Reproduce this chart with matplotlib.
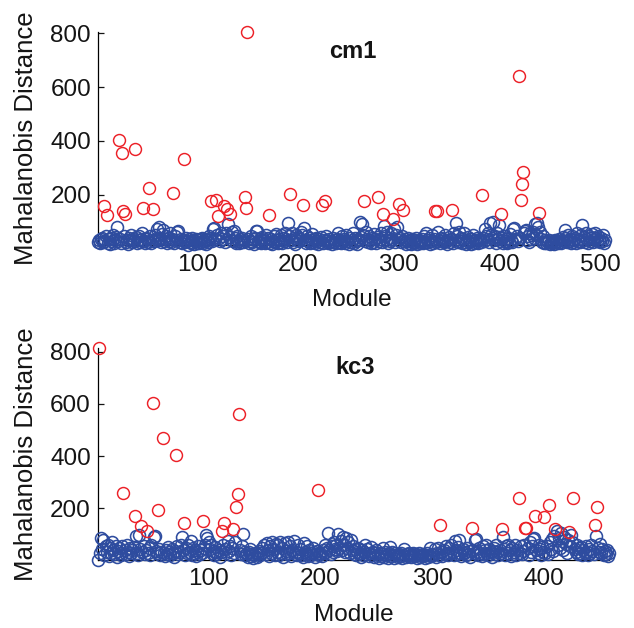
# Mahalanobis distance per module for the cm1 and kc3 data sets (outliers in red)
import numpy as np
import matplotlib.pyplot as plt

plt.rcParams["font.family"] = "Liberation Sans"

# cm1: distance per module (modules 1..505), 20 modules per row
cm1_distance = [
    25, 30, 18, 35, 40, 22, 156, 28, 45, 123, 20, 33, 15, 38, 27, 48, 21, 30, 42, 80,
    26, 402, 35, 19, 353, 138, 44, 129, 24, 31, 17, 38, 29, 50, 22, 34, 27, 369, 41, 19,
    30, 46, 24, 36, 55, 148, 28, 20, 39, 33, 25, 226, 44, 18, 31, 145, 27, 50, 36, 70,
    29, 80, 40, 22, 53, 68, 26, 34, 45, 19, 38, 28, 56, 24, 33, 206, 21, 47, 30, 62,
    64, 25, 36, 18, 30, 332, 22, 40, 27, 11, 34, 24, 20, 38, 29, 17, 26, 35, 21, 30,
    18, 33, 25, 40, 20, 28, 36, 16, 30, 24, 45, 38, 176, 27, 70, 74, 33, 181, 50, 120,
    40, 28, 55, 35, 46, 159, 24, 58, 146, 91, 42, 128, 30, 61, 26, 66, 38, 20, 44, 28,
    18, 34, 25, 40, 22, 30, 189, 150, 806, 36, 19, 28, 45, 24, 33, 17, 38, 63, 65, 27,
    22, 35, 18, 42, 26, 30, 20, 48, 25, 37, 124, 21, 33, 16, 28, 44, 23, 52, 31, 19,
    36, 25, 48, 20, 40, 28, 55, 33, 22, 94, 45, 201, 30, 58, 24, 38, 17, 50, 29, 42,
    26, 35, 60, 48, 161, 76, 32, 20, 44, 27, 38, 18, 30, 52, 24, 35, 21, 40, 28, 15,
    33, 24, 42, 162, 20, 30, 176, 46, 26, 18, 35, 22, 28, 16, 40, 25, 31, 20, 36, 55,
    23, 30, 18, 45, 26, 34, 20, 50, 28, 17, 38, 24, 32, 55, 21, 40, 27, 16, 35, 30,
    98, 42, 90, 50, 175, 28, 60, 35, 22, 45, 30, 18, 38, 24, 52, 33, 20, 42, 189, 27,
    36, 58, 24, 129, 84, 46, 30, 62, 20, 40, 28, 55, 34, 108, 70, 25, 48, 79, 30, 163,
    38, 22, 45, 144, 26, 33, 17, 28, 40, 21, 30, 15, 35, 24, 19, 29, 37, 16, 26, 32,
    20, 28, 36, 18, 44, 25, 57, 30, 22, 38, 16, 27, 48, 20, 33, 137, 24, 137, 61, 30,
    18, 40, 26, 35, 22, 50, 28, 17, 32, 42, 24, 36, 141, 20, 55, 30, 94, 45, 25, 62,
    28, 38, 20, 33, 56, 24, 17, 30, 42, 22, 35, 15, 27, 48, 20, 31, 24, 38, 18, 29,
    35, 22, 200, 40, 28, 70, 45, 33, 58, 25, 95, 50, 38, 96, 30, 42, 20, 55, 34, 87,
    26, 127, 38, 20, 46, 28, 33, 18, 40, 25, 52, 30, 22, 72, 74, 36, 45, 28, 643, 40,
    179, 241, 284, 55, 66, 68, 30, 44, 25, 58, 36, 48, 62, 40, 90, 50, 94, 80, 131, 61,
    35, 24, 45, 20, 30, 18, 26, 22, 32, 16, 25, 20, 28, 15, 30, 22, 26, 18, 35, 24,
    20, 30, 42, 26, 68, 38, 22, 50, 28, 34, 18, 45, 24, 31, 40, 20, 55, 28, 36, 22,
    48, 86, 30, 42, 25, 55, 33, 20, 46, 28, 38, 52, 24, 35, 57, 40, 26, 44, 30, 22,
    38, 28, 50, 20, 32,
]
cm1_outliers = [7, 10, 22, 25, 26, 28, 38, 46, 52, 56, 76, 86, 113, 118, 120, 126,
                129, 132, 147, 148, 149, 171, 192, 205, 224, 227, 265, 279, 284, 294,
                300, 304, 336, 338, 353, 383, 402, 419, 421, 422, 423, 439]

# kc3: distance per module (modules 1..458), 20 modules per row
kc3_distance = [
    4, 815, 30, 87, 45, 80, 22, 55, 35, 62, 18, 48, 28, 70, 40, 25, 58, 15, 38, 50,
    30, 20, 55, 261, 42, 26, 60, 35, 18, 48, 28, 40, 52, 170, 96, 30, 22, 100, 45, 132,
    35, 58, 25, 40, 114, 30, 50, 20, 62, 605, 92, 96, 38, 28, 194, 45, 22, 35, 469, 30,
    18, 40, 26, 52, 33, 20, 45, 28, 15, 38, 405, 55, 24, 32, 60, 90, 40, 145, 22, 48,
    30, 62, 35, 75, 20, 50, 28, 42, 18, 34, 55, 25, 40, 30, 153, 48, 62, 100, 88, 70,
    45, 60, 28, 38, 20, 52, 32, 24, 42, 15, 35, 113, 62, 144, 45, 28, 75, 38, 55, 22,
    48, 123, 30, 72, 206, 256, 561, 40, 25, 55, 104, 35, 20, 28, 15, 32, 45, 18, 25, 12,
    22, 30, 15, 26, 38, 20, 28, 50, 35, 62, 24, 68, 40, 18, 58, 30, 70, 45, 22, 65,
    35, 60, 20, 72, 28, 48, 15, 66, 38, 25, 70, 30, 55, 18, 42, 74, 26, 35, 20, 60,
    30, 45, 22, 15, 68, 35, 25, 55, 18, 40, 28, 20, 48, 32, 15, 25, 38, 269, 22, 30,
    18, 42, 28, 60, 35, 50, 106, 40, 25, 55, 32, 70, 45, 62, 38, 102, 50, 75, 42, 92,
    60, 35, 86, 48, 70, 30, 78, 40, 55, 25, 45, 20, 35, 50, 28, 15, 40, 22, 32, 60,
    25, 45, 18, 30, 52, 20, 35, 15, 28, 42, 22, 12, 30, 18, 25, 48, 15, 32, 20, 10,
    28, 52, 18, 35, 22, 12, 30, 20, 15, 25, 18, 28, 12, 22, 45, 15, 25, 18, 30, 20,
    15, 22, 28, 18, 25, 12, 20, 30, 15, 22, 18, 25, 12, 20, 28, 15, 22, 49, 18, 25,
    20, 45, 15, 28, 50, 22, 136, 35, 18, 42, 25, 55, 30, 20, 48, 28, 60, 35, 22, 74,
    40, 25, 52, 78, 30, 18, 45, 28, 35, 20, 50, 25, 38, 15, 125, 42, 30, 81, 83, 35,
    22, 48, 30, 18, 55, 25, 40, 62, 28, 20, 45, 32, 15, 38, 50, 25, 60, 35, 20, 42,
    28, 121, 89, 45, 22, 55, 30, 62, 40, 18, 50, 25, 35, 60, 20, 42, 240, 30, 55, 25,
    38, 62, 125, 127, 48, 22, 70, 35, 55, 84, 87, 170, 40, 28, 60, 45, 20, 52, 35, 166,
    30, 58, 25, 212, 72, 45, 85, 38, 95, 123, 112, 60, 88, 50, 106, 75, 40, 92, 65, 30,
    80, 110, 55, 98, 70, 240, 45, 35, 60, 25, 48, 30, 52, 20, 40, 28, 55, 35, 22, 45,
    30, 60, 38, 25, 136, 93, 206, 50, 32, 65, 28, 45, 20, 38, 25, 42, 18, 30,
]
kc3_outliers = [2, 24, 34, 40, 45, 50, 55, 59, 71, 78, 95, 112, 114, 122, 125, 126,
                127, 198, 307, 335, 362, 377, 383, 384, 392, 400, 404, 410, 422, 426,
                445, 447]

blue = "#2E4C9F"
red = "#EC2027"
text_color = "#141414"
font_size = 17.5


def plot_panel(ax, distance, outliers, name, xticks, label_x, label_y):
    distance = np.asarray(distance)
    module = np.arange(1, len(distance) + 1)
    is_out = np.isin(module, outliers)

    ax.plot(module[~is_out], distance[~is_out], "o", mfc="none", mec=blue,
            ms=8.6, mew=1.15, clip_on=False, zorder=3)
    ax.plot(module[is_out], distance[is_out], "o", mfc="none", mec=red,
            ms=8.6, mew=1.05, clip_on=False, zorder=4)

    # axis tight, like matlab
    ax.set_xlim(1, len(distance))
    ax.set_ylim(distance.min(), distance.max())
    ax.set_xticks(xticks)
    ax.set_yticks([200, 400, 600, 800])

    ax.spines["top"].set_visible(False)
    ax.spines["right"].set_visible(False)
    ax.spines["left"].set_linewidth(0.9)
    ax.spines["bottom"].set_linewidth(0.9)
    ax.tick_params(axis="both", direction="in", length=4, width=0.9,
                   labelsize=font_size, colors=text_color)
    ax.tick_params(axis="x", pad=6)
    ax.tick_params(axis="y", pad=5)

    ax.set_xlabel("Module", fontsize=font_size, color=text_color)
    ax.set_ylabel("Mahalanobis Distance", fontsize=18.5, color=text_color)
    ax.xaxis.set_label_coords(0.5, label_x)
    ax.xaxis.label.set_verticalalignment("center")
    ax.yaxis.set_label_coords(label_y, 0.5)
    ax.yaxis.label.set_verticalalignment("center")

    ax.text(0.503, 0.962, name, transform=ax.transAxes, ha="center", va="top",
            fontsize=17, fontweight="bold", color=text_color)


fig = plt.figure(figsize=(6.34, 6.28), dpi=100)
ax1 = fig.add_axes([0.1546, 0.6094, 0.7997, 0.3401])
ax2 = fig.add_axes([0.1541, 0.1088, 0.8068, 0.3375])

plot_panel(ax1, cm1_distance, cm1_outliers, "cm1", [100, 200, 300, 400, 500], -0.256, -0.142)
plot_panel(ax2, kc3_distance, kc3_outliers, "kc3", [100, 200, 300, 400], -0.261, -0.140)

fig.savefig("out.png", dpi=100)
